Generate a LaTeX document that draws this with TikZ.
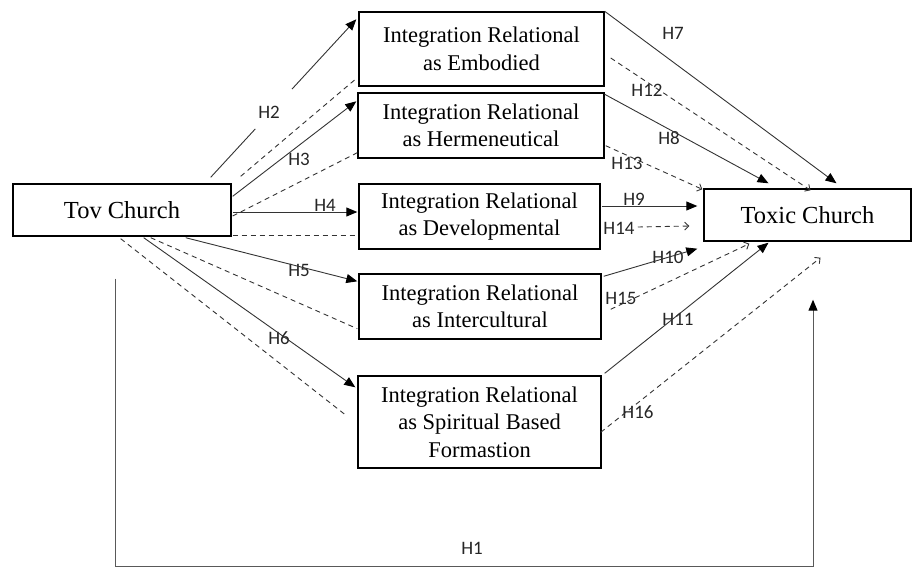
\documentclass[tikz,border=0pt]{standalone}
\usepackage{fontspec}
\setmainfont{Liberation Serif}
\newfontfamily\labfont{Carlito}
\usetikzlibrary{arrows.meta,calc}
\tikzset{
  box/.style={draw=black,line width=1.4pt,fill=white,align=center,inner sep=0pt,
    font=\fontsize{22.5}{27.5}\selectfont},
  bigbox/.style={box,font=\fontsize{24.5}{27}\selectfont},
  hlab/.style={font=\labfont\fontsize{19}{19}\selectfont,inner sep=0pt,text=black!85},
  sol/.style={draw=black!80,line width=0.9pt},
  dsh/.style={draw=black!80,line width=0.9pt,dash pattern=on 5pt off 4pt},
  fa/.style={-{Triangle[length=11pt,width=9pt,color=black]}},
  oa/.style={-{Straight Barb[length=4pt,width=8pt]}}
}
\begin{document}
\begin{tikzpicture}[x=1pt,y=-1pt]
\useasboundingbox (0,0) rectangle (913,568);
% boxes
\node[bigbox,minimum width=218pt,minimum height=52pt] (tov) at (122,210) {Tov Church};
\node[box,minimum width=245pt,minimum height=74pt] (b1) at (481.5,49) {Integration Relational\\as Embodied};
\node[box,minimum width=246pt,minimum height=65pt] (b2) at (481,125.5) {Integration Relational\\as Hermeneutical};
\node[box,minimum width=241pt,minimum height=65pt] (b3) at (479.5,216.5) {Integration Relational\\as Developmental};
\node[box,minimum width=242pt,minimum height=65pt] (b4) at (480,306.5) {Integration Relational\\as Intercultural};
\node[box,minimum width=243pt,minimum height=92pt] (b5) at (479.5,422) {Integration Relational\\as Spiritual Based\\Formastion};
\node[bigbox,minimum width=207pt,minimum height=52pt] (tox) at (807.5,215) {Toxic Church};

% labels
\node[hlab] (l1) at (472,548) {H1};
\node[hlab] (l2) at (269,112) {H2};
\node[hlab] (l3) at (299,159) {H3};
\node[hlab] (l4) at (325,205) {H4};
\node[hlab] (l5) at (299,270) {H5};
\node[hlab] (l6) at (279,338) {H6};
\node[hlab] (l7) at (673,33) {H7};
\node[hlab] (l8) at (669,138) {H8};
\node[hlab] (l9) at (634,199) {H9};
\node[hlab] (l10) at (668,257) {H10};
\node[hlab] (l11) at (678,319) {H11};
\node[hlab] (l12) at (647,90) {H12};
\node[hlab] (l13) at (627,163) {H13};
\node[hlab] (l14) at (619,228) {H14};
\node[hlab] (l15) at (621,298) {H15};
\node[hlab] (l16) at (638,412) {H16};

% left side
\coordinate (h2a) at ([shift={(-21,-6)}]tov.north east);
\coordinate (h2b) at ([shift={(-2,8)}]b1.north west);
\draw[sol] (h2a) -- ($(h2a)!0.306!(h2b)$);
\draw[sol,fa] ($(h2a)!0.558!(h2b)$) -- (h2b);
\draw[dsh] ([shift={(9,-7)}]tov.north east) -- ([shift={(-1,-9)}]b1.south west);
\draw[sol,fa] ([shift={(1,13)}]tov.north east) -- ([shift={(-1,9)}]b2.north west);
\draw[dsh] ([shift={(1,6)}]tov.east) -- ([shift={(0,-6)}]b2.south west);
\draw[sol,fa] ([shift={(1,2)}]tov.east) -- ([shift={(-1,-4.5)}]b3.west);
\draw[dsh] ([shift={(1,-1)}]tov.south east) -- ([shift={(0,-14)}]b3.south west);
\draw[sol,fa] ([shift={(-46,1)}]tov.south east) -- ([shift={(-1,8)}]b4.north west);
\draw[dsh] ([shift={(-81,1)}]tov.south east) -- ([shift={(-1,-11)}]b4.south west);
\draw[sol,fa] ([shift={(-88,1)}]tov.south east) -- ([shift={(-2,12)}]b5.north west);
\draw[dsh] ([shift={(-111,2)}]tov.south east) -- ([shift={(-10,41)}]b5.north west);

% right side
\draw[sol,fa] (b1.north east) -- ([shift={(29,-5)}]tox.north);
\draw[dsh,oa] ([shift={(6,9)}]b1.east) -- ([shift={(3,2)}]tox.north);
\draw[sol,fa] ([shift={(0,2)}]b2.north east) -- ([shift={(-39,-5)}]tox.north);
\draw[dsh,oa] ([shift={(1,-13)}]b2.south east) -- ([shift={(-1,1)}]tox.north west);
\draw[sol,fa] ([shift={(1,-10.5)}]b3.east) -- ([shift={(-6,-9)}]tox.west);
\draw[dsh,oa] ([shift={(3,-1)}]l14.east) -- ([shift={(-14,11)}]tox.west);
\draw[sol,fa] ([shift={(2,3)}]b4.north east) -- ([shift={(-6,7)}]tox.south west);
\draw[dsh,oa] ([shift={(9,36)}]b4.north east) -- ([shift={(46,2)}]tox.south west);
\draw[sol,fa] ([shift={(3,-2)}]b5.north east) -- ([shift={(-39,1)}]tox.south);
\draw[dsh,oa] ([shift={(-1,57)}]b5.north east) -- ([shift={(13,16)}]tox.south);

% H1
\coordinate (h1b) at (813,566);
\draw[draw=black!65,line width=1pt,fa] ([shift={(103,42)}]tov.south west) |- (h1b) -- ([shift={(5.5,58)}]tox.south);
\end{tikzpicture}
\end{document}
